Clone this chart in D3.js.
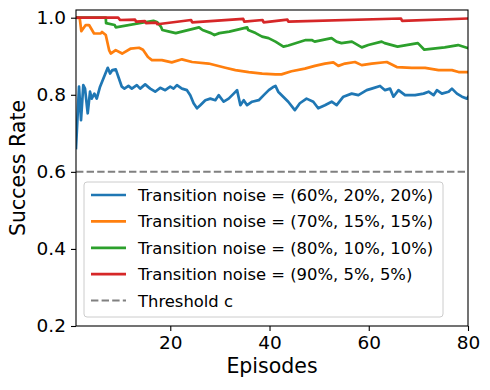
<!DOCTYPE html>
<html>
<head>
<meta charset="utf-8">
<script src="https://cdn.jsdelivr.net/npm/d3@7"></script>
<style>
  html, body { margin: 0; padding: 0; background: #fff; }
  svg { display: block; font-family: "DejaVu Sans", sans-serif; }
</style>
</head>
<body>
<svg id="chart" width="490" height="390"></svg>
<script>
// ---- data (episode, success rate) ----
const xTicks = [20, 40, 60, 80];
const yTicks = [0.2, 0.4, 0.6, 0.8, 1.0];
const threshold = 0.6;
const seriesNames = [
  "Transition noise = (60%, 20%, 20%)",
  "Transition noise = (70%, 15%, 15%)",
  "Transition noise = (80%, 10%, 10%)",
  "Transition noise = (90%, 5%, 5%)"
];
const thresholdName = "Threshold c";
const colors = ["#1f77b4", "#ff7f0e", "#2ca02c", "#d62728"];

const noise60 = [
  [1.0,0.662],[1.61,0.821],[2.01,0.734],[2.47,0.825],[2.82,0.816],[3.36,0.752],[3.83,0.808],
  [4.17,0.790],[4.70,0.803],[5.18,0.790],[5.85,0.821],[6.52,0.842],[7.40,0.870],[7.87,0.855],
  [8.33,0.864],[9.02,0.866],[9.55,0.846],[10.23,0.821],[10.76,0.816],[11.57,0.823],[12.25,0.816],
  [13.26,0.825],[13.93,0.816],[14.94,0.827],[15.95,0.816],[16.96,0.808],[17.97,0.818],[18.98,0.812],
  [19.99,0.821],[20.66,0.816],[21.34,0.825],[22.35,0.816],[23.36,0.812],[24.03,0.799],[24.70,0.778],
  [25.38,0.765],[26.05,0.773],[27.06,0.786],[28.07,0.790],[29.08,0.786],[29.75,0.799],[30.76,0.782],
  [31.77,0.790],[32.78,0.803],[33.46,0.812],[34.13,0.773],[34.80,0.786],[35.48,0.773],[36.49,0.782],
  [37.83,0.786],[38.84,0.799],[39.85,0.812],[40.86,0.821],[41.20,0.823],[41.75,0.808],[42.76,0.795],
  [43.77,0.782],[45.10,0.760],[46.11,0.778],[47.46,0.790],[48.82,0.782],[49.81,0.765],[51.16,0.773],
  [52.52,0.782],[53.53,0.773],[54.88,0.795],[56.56,0.803],[57.91,0.799],[59.59,0.812],[60.60,0.816],
  [62.27,0.823],[63.28,0.812],[64.29,0.816],[64.98,0.795],[65.99,0.812],[67.32,0.799],[69.34,0.799],
  [71.04,0.803],[72.05,0.808],[73.06,0.799],[73.73,0.812],[74.74,0.803],[76.09,0.808],[76.76,0.816],
  [77.77,0.803],[78.78,0.795],[79.79,0.790],[80.0,0.794]
];
const noise70 = [
  [1.0,1.0],[1.75,0.999],[2.07,0.965],[2.96,0.981],[3.63,0.981],[4.64,0.959],[5.99,0.959],
  [6.25,0.963],[7.0,0.955],[7.67,0.916],[8.0,0.907],[9.0,0.916],[10.3,0.907],[12.05,0.920],
  [13.7,0.922],[14.5,0.917],[15.5,0.898],[16.3,0.890],[18.3,0.890],[20.3,0.884],[22.35,0.892],
  [24.4,0.885],[27.73,0.881],[31.10,0.870],[33.12,0.864],[35.81,0.859],[38.52,0.855],[41.20,0.853],
  [42.41,0.853],[44.43,0.861],[47.12,0.868],[49.14,0.875],[51.16,0.881],[52.86,0.884],[53.87,0.875],
  [55.20,0.881],[57.22,0.885],[58.58,0.877],[60.60,0.881],[63.63,0.885],[65.65,0.872],[68.68,0.870],
  [71.36,0.870],[74.07,0.864],[76.76,0.864],[78.11,0.859],[79.8,0.859],[80.0,0.859]
];
const noise80 = [
  [1.0,1.0],[7.0,1.0],[7.06,0.986],[8.8,0.981],[9.0,0.975],[16.6,0.992],[17.4,0.988],[18.1,0.977],
  [18.4,0.968],[19.8,0.964],[21.1,0.960],[25.8,0.975],[26.5,0.968],[28.2,0.960],[28.9,0.955],
  [29.9,0.960],[31.9,0.964],[35.5,0.975],[35.7,0.968],[37.2,0.960],[38.5,0.951],[39.8,0.947],
  [41.2,0.938],[42.8,0.925],[43.8,0.928],[47.3,0.942],[48.5,0.942],[49.1,0.938],[52.5,0.947],
  [53.5,0.938],[54.5,0.934],[56.6,0.938],[58.6,0.923],[59.9,0.929],[62.6,0.938],[63.2,0.934],
  [65.8,0.925],[69.9,0.934],[71.2,0.917],[73.9,0.921],[75.3,0.923],[78.0,0.929],[80.0,0.921]
];
const noise90 = [
  [1.0,1.0],[9.5,1.0],[9.9,0.994],[12.9,0.995],[13.1,0.990],[14.9,0.991],[15.1,0.986],[17.2,0.987],
  [17.4,0.983],[24.2,0.994],[24.4,0.988],[34.7,0.997],[34.9,0.990],[38.6,0.994],[38.8,0.988],
  [43.6,0.995],[43.8,0.990],[66.5,0.998],[66.7,0.992],[80.0,0.998]
];
const allSeries = [noise60, noise70, noise80, noise90];

// ---- layout ----
const svg = d3.select("#chart");
const mLeft = 76, mRight = 468, mTop = 10, mBottom = 326;
const x = d3.scaleLinear().domain([1, 80]).range([mLeft, mRight]);
const y = d3.scaleLinear().domain([0.2, 1.02]).range([mBottom, mTop]);

svg.append("defs").append("clipPath").attr("id", "plotclip")
  .append("rect").attr("x", mLeft).attr("y", mTop)
  .attr("width", mRight - mLeft).attr("height", mBottom - mTop);

const plot = svg.append("g").attr("clip-path", "url(#plotclip)");
const line = d3.line().x(d => x(d[0])).y(d => y(d[1]));

allSeries.forEach((s, i) => {
  plot.append("path").datum(s)
    .attr("d", line)
    .attr("fill", "none")
    .attr("stroke", colors[i])
    .attr("stroke-width", 2.7)
    .attr("stroke-linejoin", "round")
    .attr("stroke-linecap", "square");
});

plot.append("line")
  .attr("x1", x(1)).attr("x2", x(80))
  .attr("y1", y(threshold)).attr("y2", y(threshold))
  .attr("stroke", "#808080").attr("stroke-width", 2)
  .attr("stroke-dasharray", "7.4,3.2");

// ---- axes ----
const xAxis = d3.axisBottom(x).tickValues(xTicks).tickFormat(d3.format("d"))
  .tickSize(5).tickPadding(5);
const yAxis = d3.axisLeft(y).tickValues(yTicks).tickFormat(d3.format(".1f"))
  .tickSize(5).tickPadding(5);

const gx = svg.append("g").attr("transform", `translate(0,${mBottom})`).call(xAxis);
const gy = svg.append("g").attr("transform", `translate(${mLeft},0)`).call(yAxis);
[gx, gy].forEach(g => {
  g.select(".domain").remove();
  g.selectAll(".tick line").attr("stroke", "#000").attr("stroke-width", 1.1);
  g.selectAll(".tick text").attr("fill", "#000").attr("font-size", "18.5px")
    .attr("font-family", "DejaVu Sans, sans-serif");
});

// frame
svg.append("rect").attr("x", mLeft).attr("y", mTop)
  .attr("width", mRight - mLeft).attr("height", mBottom - mTop)
  .attr("fill", "none").attr("stroke", "#000").attr("stroke-width", 1.1);

// axis labels
svg.append("text").attr("x", (mLeft + mRight) / 2).attr("y", 373)
  .attr("text-anchor", "middle").attr("font-size", "20.5px").attr("fill", "#000")
  .text("Episodes");
svg.append("text")
  .attr("transform", `translate(25,${(mTop + mBottom) / 2}) rotate(-90)`)
  .attr("text-anchor", "middle").attr("font-size", "20.5px").attr("fill", "#000")
  .text("Success Rate");

// ---- legend ----
const lg = svg.append("g");
lg.append("rect").attr("x", 84).attr("y", 182).attr("width", 359).attr("height", 135)
  .attr("rx", 3).attr("fill", "#fff").attr("fill-opacity", 0.8)
  .attr("stroke", "#cccccc").attr("stroke-width", 1);
const rowY0 = 195, rowStep = 26.4;
const legendItems = seriesNames.map((n, i) => ({ name: n, color: colors[i], dash: null, w: 2.7 }))
  .concat([{ name: thresholdName, color: "#808080", dash: "7.4,3.2", w: 2 }]);
legendItems.forEach((it, i) => {
  const yy = rowY0 + i * rowStep;
  lg.append("line").attr("x1", 91).attr("x2", 126).attr("y1", yy).attr("y2", yy)
    .attr("stroke", it.color).attr("stroke-width", it.w)
    .attr("stroke-dasharray", it.dash);
  lg.append("text").attr("x", 138).attr("y", yy).attr("dy", "0.36em")
    .attr("font-size", "16.4px").attr("fill", "#000").text(it.name);
});
</script>
</body>
</html>
